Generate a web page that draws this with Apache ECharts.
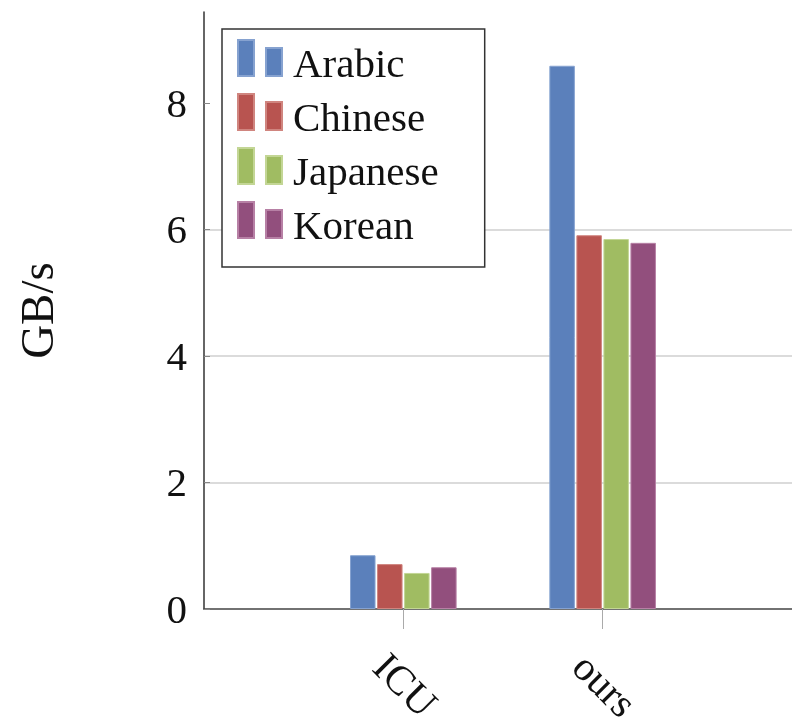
<!DOCTYPE html>
<html>
<head>
<meta charset="utf-8">
<script src="https://cdn.jsdelivr.net/npm/echarts@6/dist/echarts.min.js"></script>
<style>html,body{margin:0;padding:0;background:#fff}#c{width:792px;height:723px}</style>
</head>
<body>
<div id="c"></div>
<script>
const categories = ['ICU', 'ours'];
const seriesNames = ['Arabic', 'Chinese', 'Japanese', 'Korean'];
const arabic = [0.85, 8.59];
const chinese = [0.71, 5.91];
const japanese = [0.57, 5.85];
const korean = [0.66, 5.79];
const yTicks = [0, 2, 4, 6, 8];
const yMax = 9.44;
const colors = ['#5b80bb', '#b85450', '#a0bc62', '#924f7d'];
const borders = ['#86a2d0', '#d0857f', '#c3d695', '#b780a5'];

const values = [arabic, chinese, japanese, korean];
const FONT = 'Liberation Serif';

const chart = echarts.init(document.getElementById('c'), null, {renderer: 'canvas'});
chart.setOption({
  animation: false,
  backgroundColor: '#fff',
  grid: {left: 204, top: 12, bottom: 114, right: 0, containLabel: false, outerBoundsMode: 'none'},
  legend: {
    left: 222, top: 29,
    orient: 'vertical',
    data: seriesNames,
    itemWidth: 44, itemHeight: 36, itemGap: -3,
    icon: 'path://M0,0H16V36H0Z M28,8H44V36H28Z',
    backgroundColor: '#fff',
    borderColor: '#333', borderWidth: 1.5,
    padding: [0.5, 46, 18.5, 15],
    formatter: name => '{t|' + name + '}',
    textStyle: {
      fontFamily: FONT, fontSize: 41, color: '#111',
      rich: {t: {fontFamily: FONT, fontSize: 41, color: '#111', lineHeight: 20, padding: [16, 0, 0, 6]}}
    }
  },
  xAxis: {
    type: 'value', min: -1, max: 1.95,
    axisLine: {show: true, onZero: false, lineStyle: {color: '#444', width: 1.5}},
    axisTick: {show: true, customValues: [0, 1], length: 20, lineStyle: {color: '#aaa', width: 1}},
    axisLabel: {
      customValues: [0, 1],
      formatter: v => categories[Math.round(v)] || '',
      rotate: -45, margin: 78, align: 'center', verticalAlign: 'middle',
      fontFamily: FONT, fontSize: 41, color: '#111'
    },
    splitLine: {show: false}
  },
  yAxis: {
    type: 'value', min: 0, max: yMax,
    name: 'GB/s', nameLocation: 'middle', nameRotate: 90, nameGap: 140,
    nameTextStyle: {fontFamily: FONT, fontSize: 47, color: '#111'},
    axisLine: {show: true, onZero: false, lineStyle: {color: '#333', width: 1.5}},
    axisTick: {show: true, inside: true, length: 6, customValues: yTicks, lineStyle: {color: '#888', width: 1}},
    axisLabel: {
      customValues: yTicks, margin: 17,
      formatter: v => '{d|' + v + '}',
      rich: {d: {fontFamily: FONT, fontSize: 41, color: '#111', padding: [6, 0, 0, 0]}}
    },
    splitLine: {show: true, showMaxLine: false, showMinLine: false, lineStyle: {color: '#cfcfcf', width: 1.5}}
  },
  series: seriesNames.map((name, i) => ({
    name: name,
    type: 'bar',
    barWidth: 25.5,
    barGap: '6%',
    itemStyle: {color: colors[i], borderColor: borders[i], borderWidth: 1},
    data: values[i].map((v, j) => [j, v])
  }))
});
</script>
</body>
</html>
